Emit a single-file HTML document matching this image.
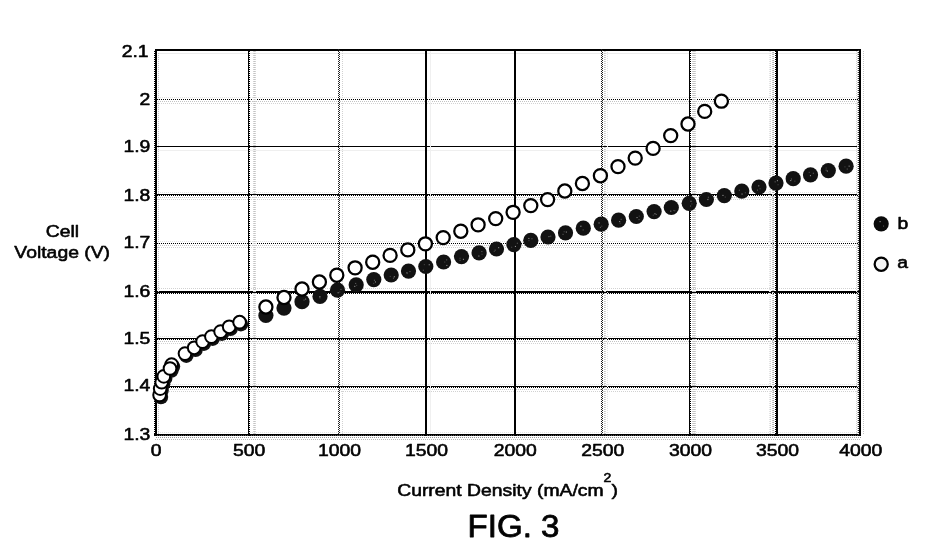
<!DOCTYPE html>
<html>
<head>
<meta charset="utf-8">
<title>FIG. 3</title>
<style>
html, body { margin: 0; padding: 0; background: #ffffff; }
body { width: 942px; height: 551px; overflow: hidden; font-family: "Liberation Sans", sans-serif; }
svg { display: block; }
</style>
</head>
<body>
<svg width="942" height="551" viewBox="0 0 942 551">
<rect x="0" y="0" width="942" height="551" fill="#ffffff"/>
<g shape-rendering="crispEdges">
<rect x="155" y="49" width="706" height="2" fill="#000"/>
<rect x="158" y="53" width="702" height="1" fill="#ececec"/>
<line x1="156" y1="97.5" x2="861" y2="97.5" stroke="#e4e4e4" stroke-width="1" stroke-dasharray="1 1"/>
<line x1="155" y1="99.5" x2="861" y2="99.5" stroke="#000" stroke-width="1" stroke-dasharray="1 1"/>
<line x1="156" y1="101.5" x2="861" y2="101.5" stroke="#c4c4c4" stroke-width="1" stroke-dasharray="1 1"/>
<line x1="155" y1="103.5" x2="861" y2="103.5" stroke="#d2d2d2" stroke-width="1" stroke-dasharray="1 1"/>
<rect x="155" y="146" width="706" height="1" fill="#000"/>
<rect x="155" y="150" width="706" height="1" fill="#efefef"/>
<line x1="156" y1="192.5" x2="861" y2="192.5" stroke="#e4e4e4" stroke-width="1" stroke-dasharray="1 1"/>
<rect x="155" y="194" width="706" height="1" fill="#000"/>
<line x1="155" y1="195.5" x2="861" y2="195.5" stroke="#000" stroke-width="1" stroke-dasharray="1 1"/>
<line x1="156" y1="197.5" x2="861" y2="197.5" stroke="#c4c4c4" stroke-width="1" stroke-dasharray="1 1"/>
<line x1="155" y1="199.5" x2="861" y2="199.5" stroke="#d2d2d2" stroke-width="1" stroke-dasharray="1 1"/>
<line x1="156" y1="241.5" x2="861" y2="241.5" stroke="#e4e4e4" stroke-width="1" stroke-dasharray="1 1"/>
<line x1="155" y1="243.5" x2="861" y2="243.5" stroke="#000" stroke-width="1" stroke-dasharray="1 1"/>
<line x1="156" y1="245.5" x2="861" y2="245.5" stroke="#c4c4c4" stroke-width="1" stroke-dasharray="1 1"/>
<line x1="155" y1="247.5" x2="861" y2="247.5" stroke="#d2d2d2" stroke-width="1" stroke-dasharray="1 1"/>
<line x1="155" y1="288.5" x2="861" y2="288.5" stroke="#d2d2d2" stroke-width="1" stroke-dasharray="1 1"/>
<rect x="155" y="291" width="706" height="2" fill="#000"/>
<line x1="155" y1="293.5" x2="861" y2="293.5" stroke="#000" stroke-width="1" stroke-dasharray="1 1"/>
<line x1="156" y1="336.5" x2="861" y2="336.5" stroke="#e4e4e4" stroke-width="1" stroke-dasharray="1 1"/>
<rect x="155" y="338" width="706" height="1" fill="#000"/>
<line x1="155" y1="339.5" x2="861" y2="339.5" stroke="#000" stroke-width="1" stroke-dasharray="1 1"/>
<line x1="156" y1="341.5" x2="861" y2="341.5" stroke="#c4c4c4" stroke-width="1" stroke-dasharray="1 1"/>
<line x1="155" y1="343.5" x2="861" y2="343.5" stroke="#d2d2d2" stroke-width="1" stroke-dasharray="1 1"/>
<line x1="156" y1="384.5" x2="861" y2="384.5" stroke="#e4e4e4" stroke-width="1" stroke-dasharray="1 1"/>
<rect x="155" y="386" width="706" height="1" fill="#000"/>
<line x1="155" y1="387.5" x2="861" y2="387.5" stroke="#000" stroke-width="1" stroke-dasharray="1 1"/>
<line x1="156" y1="389.5" x2="861" y2="389.5" stroke="#c4c4c4" stroke-width="1" stroke-dasharray="1 1"/>
<line x1="155" y1="391.5" x2="861" y2="391.5" stroke="#d2d2d2" stroke-width="1" stroke-dasharray="1 1"/>
<line x1="156" y1="432.5" x2="861" y2="432.5" stroke="#e4e4e4" stroke-width="1" stroke-dasharray="1 1"/>
<rect x="154" y="434" width="707" height="1" fill="#000"/>
<line x1="154" y1="435.5" x2="861" y2="435.5" stroke="#000" stroke-width="1" stroke-dasharray="1 1"/>
<rect x="154" y="435" width="707" height="1" fill="#555"/>
<line x1="154" y1="435.5" x2="861" y2="435.5" stroke="#000" stroke-width="1" stroke-dasharray="1 1"/>
<line x1="156" y1="437.5" x2="861" y2="437.5" stroke="#9a9a9a" stroke-width="1" stroke-dasharray="1 1"/>
<line x1="155" y1="439.5" x2="861" y2="439.5" stroke="#b8b8b8" stroke-width="1" stroke-dasharray="1 1"/>
<line x1="154.5" y1="51" x2="154.5" y2="436" stroke="#000" stroke-width="1" stroke-dasharray="1 1"/>
<rect x="155" y="49" width="2" height="387" fill="#000"/>
<line x1="158.5" y1="53" x2="158.5" y2="434" stroke="#c4c4c4" stroke-width="1" stroke-dasharray="1 1"/>
<rect x="248" y="49" width="1" height="387" fill="#000"/>
<line x1="249.5" y1="49" x2="249.5" y2="436" stroke="#000" stroke-width="1" stroke-dasharray="1 1"/>
<line x1="253.5" y1="51" x2="253.5" y2="434" stroke="#d2d2d2" stroke-width="1" stroke-dasharray="1 1"/>
<line x1="254.5" y1="51" x2="254.5" y2="434" stroke="#c4c4c4" stroke-width="1" stroke-dasharray="1 1"/>
<line x1="255.5" y1="51" x2="255.5" y2="434" stroke="#d2d2d2" stroke-width="1" stroke-dasharray="1 1"/>
<line x1="338.5" y1="49" x2="338.5" y2="436" stroke="#222" stroke-width="1" stroke-dasharray="1 1"/>
<line x1="339.5" y1="50" x2="339.5" y2="436" stroke="#222" stroke-width="1" stroke-dasharray="1 1"/>
<line x1="342.5" y1="51" x2="342.5" y2="434" stroke="#d2d2d2" stroke-width="1" stroke-dasharray="1 1"/>
<rect x="425" y="49" width="2" height="387" fill="#000"/>
<rect x="430" y="51" width="1" height="383" fill="#f0f0f0"/>
<rect x="514" y="49" width="2" height="387" fill="#000"/>
<line x1="601.5" y1="49" x2="601.5" y2="436" stroke="#222" stroke-width="1" stroke-dasharray="1 1"/>
<line x1="602.5" y1="50" x2="602.5" y2="436" stroke="#222" stroke-width="1" stroke-dasharray="1 1"/>
<line x1="604.5" y1="51" x2="604.5" y2="434" stroke="#c4c4c4" stroke-width="1" stroke-dasharray="1 1"/>
<line x1="605.5" y1="51" x2="605.5" y2="434" stroke="#d2d2d2" stroke-width="1" stroke-dasharray="1 1"/>
<line x1="607.5" y1="52" x2="607.5" y2="434" stroke="#e4e4e4" stroke-width="1" stroke-dasharray="1 1"/>
<rect x="689" y="49" width="1" height="387" fill="#000"/>
<line x1="690.5" y1="49" x2="690.5" y2="436" stroke="#000" stroke-width="1" stroke-dasharray="1 1"/>
<line x1="692.5" y1="51" x2="692.5" y2="434" stroke="#d2d2d2" stroke-width="1" stroke-dasharray="1 1"/>
<line x1="693.5" y1="51" x2="693.5" y2="434" stroke="#c4c4c4" stroke-width="1" stroke-dasharray="1 1"/>
<line x1="694.5" y1="51" x2="694.5" y2="434" stroke="#c4c4c4" stroke-width="1" stroke-dasharray="1 1"/>
<line x1="695.5" y1="51" x2="695.5" y2="434" stroke="#d2d2d2" stroke-width="1" stroke-dasharray="1 1"/>
<line x1="769.5" y1="51" x2="769.5" y2="434" stroke="#e4e4e4" stroke-width="1" stroke-dasharray="1 1"/>
<line x1="770.5" y1="51" x2="770.5" y2="434" stroke="#d2d2d2" stroke-width="1" stroke-dasharray="1 1"/>
<line x1="772.5" y1="52" x2="772.5" y2="434" stroke="#c4c4c4" stroke-width="1" stroke-dasharray="1 1"/>
<line x1="773.5" y1="52" x2="773.5" y2="434" stroke="#b0b0b0" stroke-width="1" stroke-dasharray="1 1"/>
<line x1="775.5" y1="49" x2="775.5" y2="436" stroke="#000" stroke-width="1" stroke-dasharray="1 1"/>
<rect x="776" y="49" width="2" height="387" fill="#000"/>
<line x1="856.5" y1="51" x2="856.5" y2="434" stroke="#d2d2d2" stroke-width="1" stroke-dasharray="1 1"/>
<line x1="857.5" y1="52" x2="857.5" y2="434" stroke="#c4c4c4" stroke-width="1" stroke-dasharray="1 1"/>
<line x1="858.5" y1="50" x2="858.5" y2="436" stroke="#333" stroke-width="1" stroke-dasharray="1 1"/>
<rect x="859" y="49" width="2" height="387" fill="#000"/>
<line x1="863.5" y1="51" x2="863.5" y2="434" stroke="#c4c4c4" stroke-width="1" stroke-dasharray="1 1"/>
</g>
<g>
<circle cx="160.9" cy="397.0" r="7.3" fill="#121212"/>
<circle cx="161.5" cy="390.6" r="7.3" fill="#121212"/>
<circle cx="163.0" cy="384.2" r="7.3" fill="#121212"/>
<circle cx="165.1" cy="378.4" r="7.3" fill="#121212"/>
<circle cx="172.9" cy="366.6" r="7.3" fill="#121212"/>
<circle cx="171.3" cy="370.5" r="7.3" fill="#121212"/>
<circle cx="186.3" cy="355.6" r="7.3" fill="#121212"/>
<circle cx="195.5" cy="349.8" r="7.3" fill="#121212"/>
<circle cx="203.9" cy="343.6" r="7.3" fill="#121212"/>
<circle cx="212.7" cy="338.6" r="7.3" fill="#121212"/>
<circle cx="221.9" cy="333.6" r="7.3" fill="#121212"/>
<circle cx="230.5" cy="328.8" r="7.3" fill="#121212"/>
<circle cx="240.9" cy="324.2" r="7.3" fill="#121212"/>
<circle cx="265.9" cy="315.5" r="7.6" fill="#121212"/>
<circle cx="284.0" cy="308.1" r="7.6" fill="#121212"/>
<circle cx="302.0" cy="301.7" r="7.6" fill="#121212"/>
<circle cx="320.0" cy="296.4" r="7.6" fill="#121212"/>
<circle cx="337.5" cy="290.2" r="7.6" fill="#121212"/>
<circle cx="356.2" cy="284.8" r="7.6" fill="#121212"/>
<circle cx="373.8" cy="279.6" r="7.6" fill="#121212"/>
<circle cx="391.2" cy="275.0" r="7.6" fill="#121212"/>
<circle cx="408.5" cy="271.1" r="7.6" fill="#121212"/>
<circle cx="425.8" cy="266.5" r="7.6" fill="#121212"/>
<circle cx="443.6" cy="262.0" r="7.6" fill="#121212"/>
<circle cx="461.5" cy="256.6" r="7.6" fill="#121212"/>
<circle cx="479.1" cy="252.8" r="7.6" fill="#121212"/>
<circle cx="496.5" cy="249.0" r="7.6" fill="#121212"/>
<circle cx="513.9" cy="244.6" r="7.6" fill="#121212"/>
<circle cx="530.8" cy="240.3" r="7.6" fill="#121212"/>
<circle cx="548.0" cy="237.0" r="7.6" fill="#121212"/>
<circle cx="565.5" cy="232.8" r="7.6" fill="#121212"/>
<circle cx="583.3" cy="228.2" r="7.6" fill="#121212"/>
<circle cx="601.2" cy="224.2" r="7.6" fill="#121212"/>
<circle cx="618.6" cy="220.2" r="7.6" fill="#121212"/>
<circle cx="636.3" cy="216.5" r="7.6" fill="#121212"/>
<circle cx="654.1" cy="211.6" r="7.6" fill="#121212"/>
<circle cx="671.3" cy="207.5" r="7.6" fill="#121212"/>
<circle cx="689.2" cy="203.3" r="7.6" fill="#121212"/>
<circle cx="706.4" cy="199.5" r="7.6" fill="#121212"/>
<circle cx="724.3" cy="195.6" r="7.6" fill="#121212"/>
<circle cx="741.8" cy="191.1" r="7.6" fill="#121212"/>
<circle cx="759.0" cy="187.0" r="7.6" fill="#121212"/>
<circle cx="776.0" cy="183.1" r="7.6" fill="#121212"/>
<circle cx="793.2" cy="178.7" r="7.6" fill="#121212"/>
<circle cx="810.5" cy="174.8" r="7.6" fill="#121212"/>
<circle cx="828.3" cy="170.6" r="7.6" fill="#121212"/>
<circle cx="846.1" cy="166.2" r="7.6" fill="#121212"/>
<circle cx="159.6" cy="395.0" r="6.35" fill="#fff" stroke="#000" stroke-width="2.0"/>
<circle cx="160.2" cy="388.6" r="6.35" fill="#fff" stroke="#000" stroke-width="2.0"/>
<circle cx="161.7" cy="382.2" r="6.35" fill="#fff" stroke="#000" stroke-width="2.0"/>
<circle cx="163.8" cy="376.4" r="6.35" fill="#fff" stroke="#000" stroke-width="2.0"/>
<circle cx="171.6" cy="364.6" r="6.35" fill="#fff" stroke="#000" stroke-width="2.0"/>
<circle cx="170.0" cy="368.5" r="6.35" fill="#fff" stroke="#000" stroke-width="2.0"/>
<circle cx="185.0" cy="353.6" r="6.35" fill="#fff" stroke="#000" stroke-width="2.0"/>
<circle cx="194.2" cy="347.8" r="6.35" fill="#fff" stroke="#000" stroke-width="2.0"/>
<circle cx="202.6" cy="341.6" r="6.35" fill="#fff" stroke="#000" stroke-width="2.0"/>
<circle cx="211.4" cy="336.6" r="6.35" fill="#fff" stroke="#000" stroke-width="2.0"/>
<circle cx="220.6" cy="331.6" r="6.35" fill="#fff" stroke="#000" stroke-width="2.0"/>
<circle cx="229.2" cy="326.8" r="6.35" fill="#fff" stroke="#000" stroke-width="2.0"/>
<circle cx="239.6" cy="322.2" r="6.35" fill="#fff" stroke="#000" stroke-width="2.0"/>
<circle cx="265.9" cy="307.0" r="6.55" fill="#fff" stroke="#000" stroke-width="2.25"/>
<circle cx="284.0" cy="297.5" r="6.55" fill="#fff" stroke="#000" stroke-width="2.25"/>
<circle cx="302.0" cy="289.0" r="6.55" fill="#fff" stroke="#000" stroke-width="2.25"/>
<circle cx="319.4" cy="282.0" r="6.55" fill="#fff" stroke="#000" stroke-width="2.25"/>
<circle cx="336.8" cy="275.2" r="6.55" fill="#fff" stroke="#000" stroke-width="2.25"/>
<circle cx="355.1" cy="267.8" r="6.55" fill="#fff" stroke="#000" stroke-width="2.25"/>
<circle cx="372.7" cy="262.2" r="6.55" fill="#fff" stroke="#000" stroke-width="2.25"/>
<circle cx="390.1" cy="255.4" r="6.55" fill="#fff" stroke="#000" stroke-width="2.25"/>
<circle cx="407.8" cy="249.9" r="6.55" fill="#fff" stroke="#000" stroke-width="2.25"/>
<circle cx="425.4" cy="243.8" r="6.55" fill="#fff" stroke="#000" stroke-width="2.25"/>
<circle cx="443.2" cy="237.6" r="6.55" fill="#fff" stroke="#000" stroke-width="2.25"/>
<circle cx="460.8" cy="231.2" r="6.55" fill="#fff" stroke="#000" stroke-width="2.25"/>
<circle cx="478.1" cy="224.8" r="6.55" fill="#fff" stroke="#000" stroke-width="2.25"/>
<circle cx="495.7" cy="218.6" r="6.55" fill="#fff" stroke="#000" stroke-width="2.25"/>
<circle cx="513.1" cy="212.3" r="6.55" fill="#fff" stroke="#000" stroke-width="2.25"/>
<circle cx="530.8" cy="205.6" r="6.55" fill="#fff" stroke="#000" stroke-width="2.25"/>
<circle cx="547.6" cy="199.6" r="6.55" fill="#fff" stroke="#000" stroke-width="2.25"/>
<circle cx="564.8" cy="191.0" r="6.55" fill="#fff" stroke="#000" stroke-width="2.25"/>
<circle cx="582.4" cy="183.5" r="6.55" fill="#fff" stroke="#000" stroke-width="2.25"/>
<circle cx="600.4" cy="175.7" r="6.55" fill="#fff" stroke="#000" stroke-width="2.25"/>
<circle cx="618.0" cy="166.6" r="6.55" fill="#fff" stroke="#000" stroke-width="2.25"/>
<circle cx="635.2" cy="158.1" r="6.55" fill="#fff" stroke="#000" stroke-width="2.25"/>
<circle cx="653.1" cy="148.4" r="6.55" fill="#fff" stroke="#000" stroke-width="2.25"/>
<circle cx="670.7" cy="135.6" r="6.55" fill="#fff" stroke="#000" stroke-width="2.25"/>
<circle cx="688.0" cy="124.0" r="6.55" fill="#fff" stroke="#000" stroke-width="2.25"/>
<circle cx="704.7" cy="111.4" r="6.55" fill="#fff" stroke="#000" stroke-width="2.25"/>
<circle cx="721.4" cy="101.2" r="6.55" fill="#fff" stroke="#000" stroke-width="2.25"/>
<circle cx="881.2" cy="223.8" r="7.6" fill="#0a0a0a"/>
<circle cx="881.2" cy="264.2" r="6.55" fill="#f4f4f4" stroke="#000" stroke-width="2.25"/>
</g>
<g><rect x="305.0" y="298.6" width="1.1" height="1.1" fill="#8a8a8a"/><rect x="303.5" y="299.5" width="1.1" height="1.1" fill="#5a5a5a"/><rect x="305.1" y="298.6" width="1.1" height="1.1" fill="#444"/><rect x="319.1" y="296.3" width="1.1" height="1.1" fill="#8a8a8a"/><rect x="319.5" y="296.1" width="1.1" height="1.1" fill="#5a5a5a"/><rect x="319.4" y="297.4" width="1.1" height="1.1" fill="#444"/><rect x="337.6" y="292.2" width="1.1" height="1.1" fill="#8a8a8a"/><rect x="340.4" y="288.9" width="1.1" height="1.1" fill="#5a5a5a"/><rect x="339.2" y="291.5" width="1.1" height="1.1" fill="#444"/><rect x="354.2" y="285.8" width="1.1" height="1.1" fill="#8a8a8a"/><rect x="355.1" y="282.9" width="1.1" height="1.1" fill="#5a5a5a"/><rect x="356.1" y="284.8" width="1.1" height="1.1" fill="#444"/><rect x="374.9" y="281.4" width="1.1" height="1.1" fill="#8a8a8a"/><rect x="373.9" y="279.7" width="1.1" height="1.1" fill="#5a5a5a"/><rect x="373.1" y="282.8" width="1.1" height="1.1" fill="#444"/><rect x="393.8" y="276.2" width="1.1" height="1.1" fill="#8a8a8a"/><rect x="392.9" y="277.6" width="1.1" height="1.1" fill="#5a5a5a"/><rect x="389.7" y="275.9" width="1.1" height="1.1" fill="#444"/><rect x="406.4" y="272.3" width="1.1" height="1.1" fill="#8a8a8a"/><rect x="409.4" y="271.0" width="1.1" height="1.1" fill="#5a5a5a"/><rect x="406.7" y="273.0" width="1.1" height="1.1" fill="#444"/><rect x="428.7" y="264.2" width="1.1" height="1.1" fill="#8a8a8a"/><rect x="422.8" y="269.7" width="1.1" height="1.1" fill="#5a5a5a"/><rect x="423.8" y="264.1" width="1.1" height="1.1" fill="#444"/><rect x="446.3" y="264.9" width="1.1" height="1.1" fill="#8a8a8a"/><rect x="446.1" y="259.3" width="1.1" height="1.1" fill="#5a5a5a"/><rect x="444.2" y="261.5" width="1.1" height="1.1" fill="#444"/><rect x="462.9" y="258.8" width="1.1" height="1.1" fill="#8a8a8a"/><rect x="459.5" y="259.8" width="1.1" height="1.1" fill="#5a5a5a"/><rect x="459.5" y="257.7" width="1.1" height="1.1" fill="#444"/><rect x="478.3" y="255.5" width="1.1" height="1.1" fill="#8a8a8a"/><rect x="481.3" y="251.0" width="1.1" height="1.1" fill="#5a5a5a"/><rect x="481.5" y="253.7" width="1.1" height="1.1" fill="#444"/><rect x="498.1" y="247.1" width="1.1" height="1.1" fill="#8a8a8a"/><rect x="494.6" y="249.6" width="1.1" height="1.1" fill="#5a5a5a"/><rect x="493.7" y="250.8" width="1.1" height="1.1" fill="#444"/><rect x="514.9" y="245.9" width="1.1" height="1.1" fill="#8a8a8a"/><rect x="516.8" y="242.7" width="1.1" height="1.1" fill="#5a5a5a"/><rect x="511.1" y="246.7" width="1.1" height="1.1" fill="#444"/><rect x="528.3" y="237.9" width="1.1" height="1.1" fill="#8a8a8a"/><rect x="531.4" y="238.2" width="1.1" height="1.1" fill="#5a5a5a"/><rect x="528.4" y="240.1" width="1.1" height="1.1" fill="#444"/><rect x="548.3" y="236.0" width="1.1" height="1.1" fill="#8a8a8a"/><rect x="550.2" y="235.6" width="1.1" height="1.1" fill="#5a5a5a"/><rect x="548.1" y="236.0" width="1.1" height="1.1" fill="#444"/><rect x="565.8" y="231.5" width="1.1" height="1.1" fill="#8a8a8a"/><rect x="562.5" y="233.8" width="1.1" height="1.1" fill="#5a5a5a"/><rect x="563.6" y="231.2" width="1.1" height="1.1" fill="#444"/><rect x="580.2" y="225.7" width="1.1" height="1.1" fill="#8a8a8a"/><rect x="582.6" y="229.4" width="1.1" height="1.1" fill="#5a5a5a"/><rect x="581.0" y="225.7" width="1.1" height="1.1" fill="#444"/><rect x="598.5" y="222.4" width="1.1" height="1.1" fill="#8a8a8a"/><rect x="599.9" y="226.8" width="1.1" height="1.1" fill="#5a5a5a"/><rect x="601.2" y="225.6" width="1.1" height="1.1" fill="#444"/><rect x="619.1" y="221.0" width="1.1" height="1.1" fill="#8a8a8a"/><rect x="620.6" y="218.8" width="1.1" height="1.1" fill="#5a5a5a"/><rect x="619.6" y="222.7" width="1.1" height="1.1" fill="#444"/><rect x="636.5" y="217.0" width="1.1" height="1.1" fill="#8a8a8a"/><rect x="638.5" y="219.1" width="1.1" height="1.1" fill="#5a5a5a"/><rect x="638.7" y="215.6" width="1.1" height="1.1" fill="#444"/><rect x="654.4" y="213.2" width="1.1" height="1.1" fill="#8a8a8a"/><rect x="655.7" y="213.9" width="1.1" height="1.1" fill="#5a5a5a"/><rect x="652.7" y="214.6" width="1.1" height="1.1" fill="#444"/><rect x="670.2" y="210.6" width="1.1" height="1.1" fill="#8a8a8a"/><rect x="674.2" y="210.2" width="1.1" height="1.1" fill="#5a5a5a"/><rect x="673.2" y="209.9" width="1.1" height="1.1" fill="#444"/><rect x="690.4" y="200.7" width="1.1" height="1.1" fill="#8a8a8a"/><rect x="690.0" y="205.5" width="1.1" height="1.1" fill="#5a5a5a"/><rect x="691.3" y="203.4" width="1.1" height="1.1" fill="#444"/><rect x="707.3" y="199.0" width="1.1" height="1.1" fill="#8a8a8a"/><rect x="707.8" y="196.7" width="1.1" height="1.1" fill="#5a5a5a"/><rect x="707.7" y="198.7" width="1.1" height="1.1" fill="#444"/><rect x="722.4" y="194.9" width="1.1" height="1.1" fill="#8a8a8a"/><rect x="722.3" y="194.9" width="1.1" height="1.1" fill="#5a5a5a"/><rect x="724.7" y="196.5" width="1.1" height="1.1" fill="#444"/><rect x="741.5" y="193.5" width="1.1" height="1.1" fill="#8a8a8a"/><rect x="738.8" y="189.7" width="1.1" height="1.1" fill="#5a5a5a"/><rect x="744.8" y="192.2" width="1.1" height="1.1" fill="#444"/><rect x="758.2" y="185.3" width="1.1" height="1.1" fill="#8a8a8a"/><rect x="756.9" y="189.6" width="1.1" height="1.1" fill="#5a5a5a"/><rect x="759.5" y="188.2" width="1.1" height="1.1" fill="#444"/><rect x="776.9" y="180.1" width="1.1" height="1.1" fill="#8a8a8a"/><rect x="774.6" y="181.3" width="1.1" height="1.1" fill="#5a5a5a"/><rect x="777.5" y="184.2" width="1.1" height="1.1" fill="#444"/><rect x="790.2" y="180.0" width="1.1" height="1.1" fill="#8a8a8a"/><rect x="790.9" y="178.5" width="1.1" height="1.1" fill="#5a5a5a"/><rect x="794.3" y="180.6" width="1.1" height="1.1" fill="#444"/><rect x="809.9" y="175.1" width="1.1" height="1.1" fill="#8a8a8a"/><rect x="812.8" y="172.7" width="1.1" height="1.1" fill="#5a5a5a"/><rect x="808.7" y="171.8" width="1.1" height="1.1" fill="#444"/><rect x="826.8" y="170.5" width="1.1" height="1.1" fill="#8a8a8a"/><rect x="825.6" y="169.6" width="1.1" height="1.1" fill="#5a5a5a"/><rect x="825.6" y="167.5" width="1.1" height="1.1" fill="#444"/><rect x="848.6" y="165.6" width="1.1" height="1.1" fill="#8a8a8a"/><rect x="846.7" y="168.5" width="1.1" height="1.1" fill="#5a5a5a"/><rect x="844.4" y="166.3" width="1.1" height="1.1" fill="#444"/><rect x="879.5" y="221" width="1.2" height="1.2" fill="#888"/><rect x="883" y="225.5" width="1.1" height="1.1" fill="#555"/></g>
<g font-family="'Liberation Sans', sans-serif" fill="#000" stroke="#000" stroke-width="0.6" stroke-linejoin="round" style="isolation:isolate;opacity:0.995">
<text transform="translate(148.6 56.5) scale(1.113 1)" font-size="17.4" text-anchor="end">2.1</text>
<text transform="translate(150.3 104.8) scale(1.113 1)" font-size="17.4" text-anchor="end">2</text>
<text transform="translate(150.3 152.0) scale(1.113 1)" font-size="17.4" text-anchor="end">1.9</text>
<text transform="translate(150.3 200.7) scale(1.113 1)" font-size="17.4" text-anchor="end">1.8</text>
<text transform="translate(150.3 248.2) scale(1.113 1)" font-size="17.4" text-anchor="end">1.7</text>
<text transform="translate(150.3 296.9) scale(1.113 1)" font-size="17.4" text-anchor="end">1.6</text>
<text transform="translate(150.3 344.1) scale(1.113 1)" font-size="17.4" text-anchor="end">1.5</text>
<text transform="translate(150.3 391.1) scale(1.113 1)" font-size="17.4" text-anchor="end">1.4</text>
<text transform="translate(150.3 439.6) scale(1.113 1)" font-size="17.4" text-anchor="end">1.3</text>
<text transform="translate(156.1 455.6) scale(1.113 1)" font-size="17.4" text-anchor="middle">0</text>
<text transform="translate(249.20000000000002 455.6) scale(1.113 1)" font-size="17.4" text-anchor="middle">500</text>
<text transform="translate(339.5 455.6) scale(1.113 1)" font-size="17.4" text-anchor="middle">1000</text>
<text transform="translate(426.4 455.6) scale(1.113 1)" font-size="17.4" text-anchor="middle">1500</text>
<text transform="translate(515.1999999999999 455.6) scale(1.113 1)" font-size="17.4" text-anchor="middle">2000</text>
<text transform="translate(602.6999999999999 455.6) scale(1.113 1)" font-size="17.4" text-anchor="middle">2500</text>
<text transform="translate(690.4 455.6) scale(1.113 1)" font-size="17.4" text-anchor="middle">3000</text>
<text transform="translate(777.4 455.6) scale(1.113 1)" font-size="17.4" text-anchor="middle">3500</text>
<text transform="translate(860.8 455.6) scale(1.113 1)" font-size="17.4" text-anchor="middle">4000</text>
<text transform="translate(62.4 237) scale(1.113 1)" font-size="17.4" text-anchor="middle">Cell</text>
<text transform="translate(62.2 258.4) scale(1.113 1)" font-size="17.4" text-anchor="middle">Voltage (V)</text>
<text transform="translate(507.5 495.9) scale(1.113 1)" font-size="17.4" text-anchor="middle">Current Density (mA/cm<tspan dy="-13.6" font-size="12.6">2</tspan><tspan dy="13.6">)</tspan></text>
<text transform="translate(513.5 537.2) scale(1.085 1)" font-size="30.5" text-anchor="middle" stroke-width="0.8">FIG. 3</text>
<text transform="translate(897.6 228.6) scale(1.113 1)" font-size="17.4" text-anchor="start">b</text>
<text transform="translate(897.2 268.2) scale(1.113 1)" font-size="17.4" text-anchor="start">a</text>
</g>
</svg>
</body>
</html>
